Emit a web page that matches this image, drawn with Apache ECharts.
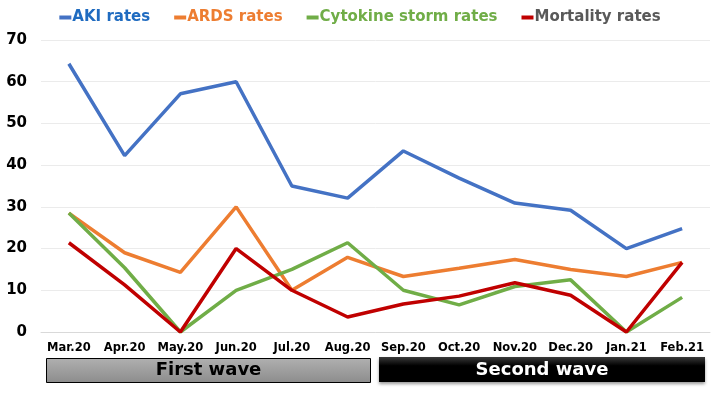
<!DOCTYPE html>
<html>
<head>
<meta charset="utf-8">
<script src="https://cdn.jsdelivr.net/npm/echarts@6/dist/echarts.min.js"></script>
<style>
  html, body { margin: 0; padding: 0; background: #fff; }
  #chart { width: 720px; height: 405px; }
</style>
</head>
<body>
<div id="chart"></div>
<script>
var months = ['Mar.20', 'Apr.20', 'May.20', 'Jun.20', 'Jul.20', 'Aug.20',
  'Sep.20', 'Oct.20', 'Nov.20', 'Dec.20', 'Jan.21', 'Feb.21']
var akiRates = [64.3, 42.3, 57.1, 60, 35, 32.1, 43.4, 36.9, 30.9, 29.2, 20, 24.8]
var ardsRates = [28.5, 19.0, 14.3, 30, 10, 17.9, 13.3, 15.3, 17.4, 15.0, 13.3, 16.7]
var cytokineRates = [28.5, 15.4, 0, 10, 15, 21.4, 10, 6.5, 10.9, 12.5, 0, 8.3]
var mortalityRates = [21.4, 11.3, 0, 20, 10, 3.6, 6.7, 8.6, 11.8, 8.8, 0, 16.7]
var waves = ['First wave', 'Second wave']

var font = 'DejaVu Sans'
var chart = echarts.init(document.getElementById('chart'))

function lineSeries(name, data, color) {
  return {
    name: name,
    type: 'line',
    data: data,
    symbol: 'none',
    lineStyle: { width: 3.5, color: color },
    itemStyle: { color: color },
    animation: false
  }
}

chart.setOption({
  backgroundColor: '#fff',
  legend: {
    top: 5,
    left: 'center',
    itemWidth: 12,
    itemHeight: 4,
    itemGap: 24,
    icon: 'rect',
    textStyle: { fontFamily: font, fontWeight: 'bold', fontSize: 15, padding: [0, 0, 0, -4] },
    data: [
      { name: 'AKI rates', textStyle: { color: '#1F6BC0' } },
      { name: 'ARDS rates', textStyle: { color: '#ED7D31' } },
      { name: 'Cytokine storm rates', textStyle: { color: '#70AD47' } },
      { name: 'Mortality rates', textStyle: { color: '#595959' } }
    ]
  },
  grid: { left: 41, right: 10, top: 40, bottom: 73 },
  xAxis: {
    type: 'category',
    data: months,
    axisLine: { lineStyle: { color: '#d9d9d9', width: 1 } },
    axisTick: { show: false },
    axisLabel: {
      interval: 0,
      margin: 10,
      color: '#000',
      fontFamily: font,
      fontWeight: 'bold',
      fontSize: 11.5
    }
  },
  yAxis: {
    type: 'value',
    min: 0,
    max: 70,
    interval: 10,
    axisLine: { show: false },
    axisTick: { show: false },
    splitLine: { lineStyle: { color: '#ebebeb' } },
    axisLabel: {
      margin: 14,
      color: '#000',
      fontFamily: font,
      fontWeight: 'bold',
      fontSize: 15
    }
  },
  graphic: [
    {
      type: 'group',
      left: 46,
      top: 358,
      children: [
        {
          type: 'rect',
          shape: { x: 0, y: 0, width: 324, height: 24 },
          style: {
            fill: new echarts.graphic.LinearGradient(0, 0, 0, 1, [
              { offset: 0, color: '#b0b0b0' },
              { offset: 1, color: '#8c8c8c' }
            ]),
            stroke: '#000',
            lineWidth: 1
          }
        },
        {
          type: 'text',
          style: {
            x: 162, y: 12, text: waves[0], align: 'center', verticalAlign: 'middle',
            fill: '#000', fontFamily: font, fontWeight: 'bold', fontSize: 18
          }
        }
      ]
    },
    {
      type: 'group',
      left: 379,
      top: 357,
      children: [
        {
          type: 'rect',
          shape: { x: 0, y: 0, width: 326, height: 25 },
          style: {
            fill: new echarts.graphic.LinearGradient(0, 0, 0, 1, [
              { offset: 0, color: '#3a3a3a' },
              { offset: 0.35, color: '#000' },
              { offset: 1, color: '#000' }
            ]),
            shadowBlur: 3,
            shadowColor: 'rgba(0,0,0,0.4)',
            shadowOffsetY: 2
          }
        },
        {
          type: 'text',
          style: {
            x: 163, y: 13, text: waves[1], align: 'center', verticalAlign: 'middle',
            fill: '#fff', fontFamily: font, fontWeight: 'bold', fontSize: 18
          }
        }
      ]
    }
  ],
  series: [
    lineSeries('AKI rates', akiRates, '#4472C4'),
    lineSeries('ARDS rates', ardsRates, '#ED7D31'),
    lineSeries('Cytokine storm rates', cytokineRates, '#70AD47'),
    lineSeries('Mortality rates', mortalityRates, '#C00000')
  ]
})
</script>
</body>
</html>
